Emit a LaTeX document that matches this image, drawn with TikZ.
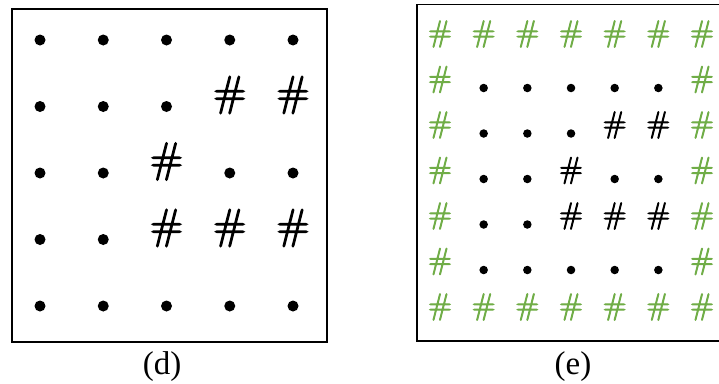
\documentclass[tikz,border=0pt]{standalone}
\usepackage{fontspec}
\newfontfamily\capfont{Liberation Serif}
\newfontfamily\poundfont[FakeBold=3]{Latin Modern Roman}
\definecolor{leafgreen}{HTML}{70AD47}
\tikzset{
  panel/.style={draw=black, line width=1.8pt},
  dotD/.style={circle, fill=black, inner sep=0pt, minimum size=11pt},
  dotE/.style={circle, fill=black, inner sep=0pt, minimum size=8.5pt},
  bigpound/.style={inner sep=0pt, font=\poundfont\fontsize{42}{42}\selectfont},
  smallpound/.style={inner sep=0pt, font=\poundfont\fontsize{30}{30}\selectfont},
  wallpound/.style={smallpound, text=leafgreen},
  caption/.style={inner sep=0pt, font=\capfont\fontsize{33}{33}\selectfont},
}
\begin{document}
\begin{tikzpicture}[x=1pt,y=-1pt]
\useasboundingbox (0,0) rectangle (719,383);
\clip (0,0) rectangle (719,383);

% ---------- panel (d): 5x5 grid ----------
\draw[panel] (12,9) rectangle (327,342);
\foreach \r/\c in {1/1,1/2,1/3,1/4,1/5,
                   2/1,2/2,2/3,
                   3/1,3/2,3/4,3/5,
                   4/1,4/2,
                   5/1,5/2,5/3,5/4,5/5}
  \node[dotD] (d-\r-\c) at ({40+63.25*(\c-1)},{40+66.5*(\r-1)}) {};
\foreach \r/\c in {2/4,2/5,3/3,4/3,4/4,4/5}
  \node[bigpound] (d-\r-\c) at ({40+63.25*(\c-1)},{40+66.5*(\r-1)-11.5}) {\#};
\node[caption] (capD) at (162,367) {(d)};

% ---------- panel (e): grid padded with a wall ----------
\draw[panel] (417,4.5) rectangle (760,341);
% wall cells
\foreach \c in {1,...,7}{
  \node[wallpound] (e-1-\c) at ({440+43.67*(\c-1)},34) {\#};
  \node[wallpound] (e-7-\c) at ({440+43.67*(\c-1)},{34+45.5*6}) {\#};
}
\foreach \r in {2,...,6}{
  \node[wallpound] (e-\r-1) at (440,{34+45.5*(\r-1)}) {\#};
  \node[wallpound] (e-\r-7) at ({440+43.67*6},{34+45.5*(\r-1)}) {\#};
}
% inner cells
\foreach \r/\c in {2/2,2/3,2/4,2/5,2/6,
                   3/2,3/3,3/4,
                   4/2,4/3,4/5,4/6,
                   5/2,5/3,
                   6/2,6/3,6/4,6/5,6/6}
  \node[dotE] (e-\r-\c) at ({440+43.67*(\c-1)},{34+45.5*(\r-1)+8.5}) {};
\foreach \r/\c in {3/5,3/6,4/4,5/4,5/5,5/6}
  \node[smallpound] (e-\r-\c) at ({440+43.67*(\c-1)},{34+45.5*(\r-1)}) {\#};
\node[caption] (capE) at (573,367) {(e)};
\end{tikzpicture}
\end{document}
